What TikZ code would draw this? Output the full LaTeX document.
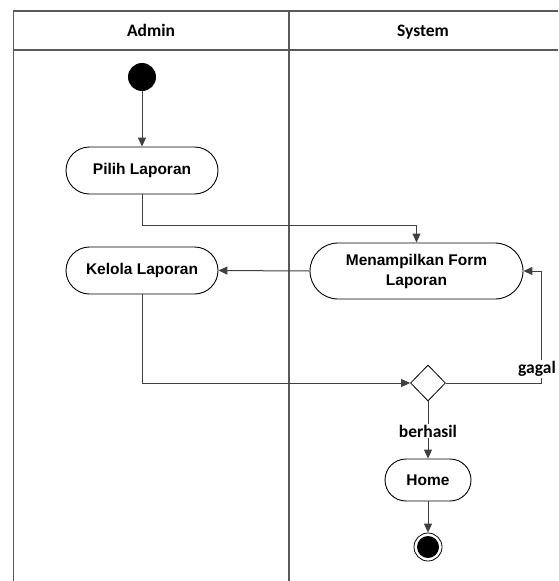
\documentclass[tikz,border=0pt]{standalone}
\usepackage{fontspec}
\setmainfont{Liberation Sans}
\newfontfamily\lanefont{Carlito}
\usetikzlibrary{arrows.meta,shapes.geometric}
\tikzset{
  act/.style={draw=black,line width=0.9pt,fill=white,align=center,inner sep=0pt,
    font=\bfseries\fontsize{15.5}{20}\selectfont},
  flow/.style={draw=black!75,line width=1pt,-{Triangle[length=9pt,width=8pt]}},
  lane/.style={draw=black!65,line width=1.2pt},
  guard/.style={fill=white,inner sep=1pt,font=\lanefont\bfseries\fontsize{17.5}{20}\selectfont},
}
\begin{document}
\begin{tikzpicture}[x=1pt,y=-1pt]
	\useasboundingbox (0,0) rectangle (558,581);
	% swimlanes
	\draw[lane] (13.5,581) -- (13.5,11) -- (558,11);
	\draw[lane] (13.5,50) -- (558,50);
	\draw[lane] (289,11) -- (289,581);
	\node[guard,fill=none,anchor=base] (admin) at (151,36) {Admin};
	\node[guard,fill=none,anchor=base] (system) at (423,36) {System};
	% activities
	\node[circle,fill=black,minimum size=28pt,inner sep=0pt] (start) at (142,77) {};
	\node[act,rounded corners=23.5pt,minimum width=152pt,minimum height=47pt] (pilih) at (142,170.5) {Pilih Laporan};
	\node[act,rounded corners=23.5pt,minimum width=152pt,minimum height=47pt] (kelola) at (142,270.5) {Kelola Laporan};
	\node[act,rounded corners=28pt,minimum width=213pt,minimum height=56pt] (tampil) at (416.5,271) {Menampilkan Form\\Laporan};
	\node[draw=black,line width=0.8pt,fill=white,diamond,minimum width=35pt,minimum height=36pt,inner sep=0pt] (decision) at (428,383) {};
	\node[act,rounded corners=21pt,minimum width=86pt,minimum height=42pt] (home) at (428,480) {Home};
	\node[circle,draw=black,line width=0.8pt,minimum size=28pt,inner sep=0pt] (finish) at (428,547) {};
	\fill (finish) circle (11pt);
	\coordinate (gagalturn) at (541,383);
	% flows
	\draw[flow] (start) -- (pilih);
	\draw[flow] (pilih.south) -- ++(0,31) -| (tampil.north);
	\draw[flow] (tampil.west) -- (kelola.east);
	\draw[flow] (kelola.south) |- (decision.west);
	\draw[flow] (decision.east) -- (gagalturn) |- (tampil.east);
	\draw[flow] (decision) -- (home);
	\draw[flow] (home) -- (finish);
	\node[guard] (berhasil) at (428,431) {berhasil};
	\node[guard] (gagal) at (537,369) {gagal};
\end{tikzpicture}
\end{document}
